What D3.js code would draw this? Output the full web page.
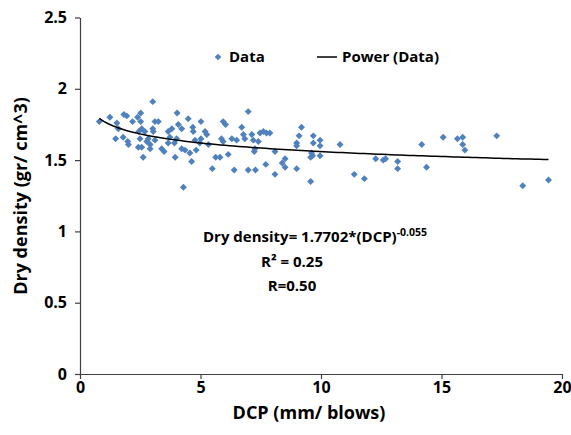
<!DOCTYPE html>
<html>
<head>
<meta charset="utf-8">
<script src="https://cdn.jsdelivr.net/npm/d3@7"></script>
<style>
  body { margin: 0; background: #fff; }
  svg { font-family: "Open Sans", sans-serif; }
</style>
</head>
<body>
<div id="chart"></div>
<script>
// DCP (mm/blows) and dry density (gr/cm^3)
const dcp = [0.80, 1.24, 1.53, 1.59, 1.82, 1.94, 1.48, 1.79, 1.98, 2.01,
  2.18, 2.39, 2.52, 2.52, 2.56, 2.44, 2.49, 2.42, 2.56, 2.62,
  2.69, 2.83, 2.77, 2.91, 2.91, 3.02, 3.02, 3.11, 3.25, 3.04,
  3.11, 3.39, 3.49, 3.66, 3.81, 3.73, 4.01, 3.92, 4.03, 4.08,
  4.22, 3.95, 4.22, 4.36, 4.49, 4.56, 4.63, 4.68, 4.70, 4.77,
  4.29, 3.66, 4.82, 5.02, 5.19, 5.26, 5.02, 4.97, 5.33, 5.63,
  5.81, 5.49, 5.94, 6.04, 5.87, 5.94, 6.15, 6.30, 6.40, 6.50,
  6.71, 6.78, 6.84, 6.98, 6.98, 7.28, 7.13, 7.19, 7.26, 7.23,
  7.40, 7.47, 7.61, 7.74, 7.88, 7.71, 8.09, 8.09, 8.39, 8.51,
  8.51, 8.99, 8.99, 8.99, 9.09, 9.19, 9.57, 9.68, 9.68, 9.61,
  9.65, 9.57, 9.96, 9.96, 9.96, 10.79, 11.38, 11.80, 12.27, 12.58,
  12.68, 13.18, 13.18, 14.18, 14.38, 15.07, 15.66, 15.88, 15.88, 15.97,
  17.29, 18.37, 19.44];
const density = [1.77, 1.80, 1.76, 1.72, 1.82, 1.81, 1.65, 1.66, 1.63, 1.61,
  1.77, 1.80, 1.83, 1.77, 1.72, 1.70, 1.65, 1.59, 1.59, 1.52,
  1.70, 1.65, 1.63, 1.61, 1.58, 1.91, 1.72, 1.77, 1.77, 1.70,
  1.64, 1.58, 1.56, 1.70, 1.72, 1.66, 1.65, 1.62, 1.83, 1.75,
  1.72, 1.52, 1.58, 1.57, 1.79, 1.55, 1.49, 1.73, 1.70, 1.64,
  1.31, 1.62, 1.57, 1.77, 1.70, 1.68, 1.65, 1.62, 1.61, 1.52,
  1.52, 1.44, 1.77, 1.75, 1.65, 1.63, 1.54, 1.65, 1.43, 1.64,
  1.73, 1.68, 1.65, 1.84, 1.43, 1.43, 1.68, 1.64, 1.58, 1.56,
  1.63, 1.69, 1.70, 1.69, 1.69, 1.47, 1.56, 1.40, 1.48, 1.51,
  1.45, 1.62, 1.60, 1.44, 1.67, 1.73, 1.35, 1.67, 1.62, 1.55,
  1.53, 1.52, 1.64, 1.60, 1.53, 1.61, 1.40, 1.37, 1.51, 1.50,
  1.51, 1.49, 1.44, 1.61, 1.45, 1.66, 1.65, 1.66, 1.61, 1.57,
  1.67, 1.32, 1.36];

const xTicks = [0, 5, 10, 15, 20];
const yTicks = [0, 0.5, 1, 1.5, 2, 2.5];

// power trendline shown on the chart: y = a * x^b
const fitA = 1.7702;
const fitB = -0.055;

const data = dcp.map((d, i) => ({ x: d, y: density[i] }));

const W = 571, H = 435;
const svg = d3.select("#chart")
  .append("svg")
  .attr("width", W)
  .attr("height", H);

const x = d3.scaleLinear().domain([0, 20]).range([80, 562]);
const y = d3.scaleLinear().domain([0, 2.5]).range([374, 17.5]);

const axisColor = "#404040";

const xAxis = svg.append("g")
  .attr("transform", "translate(0," + y(0) + ")")
  .call(d3.axisBottom(x).tickValues(xTicks).tickFormat(d => String(d))
    .tickSize(5).tickSizeOuter(0).tickPadding(3));

const yAxis = svg.append("g")
  .attr("transform", "translate(" + x(0) + ",0)")
  .call(d3.axisLeft(y).tickValues(yTicks).tickFormat(d => String(d))
    .tickSize(5).tickSizeOuter(0).tickPadding(8));

[xAxis, yAxis].forEach(a => {
  a.select(".domain").attr("stroke", axisColor).attr("stroke-width", 1.2);
  a.selectAll(".tick line").attr("stroke", axisColor).attr("stroke-width", 1.2);
  a.selectAll(".tick text")
    .attr("fill", "#000")
    .style("font-family", "'Open Sans', sans-serif")
    .style("font-size", "16px")
    .style("font-weight", "bold");
});

// points
const diamond = d3.symbol().type(d3.symbolSquare).size(24);
svg.append("g")
  .selectAll("path")
  .data(data)
  .enter()
    .append("path")
      .attr("d", diamond)
      .attr("transform", d => "translate(" + x(d.x) + "," + y(d.y) + ") rotate(45)")
      .attr("fill", "#4f81bd");

// trendline between smallest and largest DCP
const [lo, hi] = d3.extent(dcp);
const xs = d3.range(0, 101).map(i => lo + (hi - lo) * i / 100);
const line = d3.line()
  .x(d => x(d))
  .y(d => y(fitA * Math.pow(d, fitB)));
svg.append("path")
  .datum(xs)
  .attr("d", line)
  .attr("fill", "none")
  .attr("stroke", "#000")
  .attr("stroke-width", 1.5);

// legend
const legend = svg.append("g").style("font-size", "15px").style("font-weight", "bold");
legend.append("path")
  .attr("d", d3.symbol().type(d3.symbolSquare).size(22))
  .attr("transform", "translate(218,57) rotate(45)")
  .attr("fill", "#4f81bd");
legend.append("text").attr("x", 229).attr("y", 62).text("Data");
legend.append("line")
  .attr("x1", 317).attr("x2", 337).attr("y1", 57).attr("y2", 57)
  .attr("stroke", "#000").attr("stroke-width", 1.5);
legend.append("text").attr("x", 342).attr("y", 62).text("Power (Data)");

// equation block
const eq = svg.append("g").style("font-size", "15px").style("font-weight", "bold");
const eqText = eq.append("text").attr("x", 203).attr("y", 242);
eqText.append("tspan").text("Dry density= " + fitA + "*(DCP)");
eqText.append("tspan")
  .attr("dy", -6)
  .style("font-size", "10.5px")
  .text(fitB);
eq.append("text").attr("x", 292).attr("y", 267).attr("text-anchor", "middle")
  .text("R² = 0.25");
eq.append("text").attr("x", 292).attr("y", 291).attr("text-anchor", "middle")
  .text("R=0.50");

// axis titles
svg.append("text")
  .attr("x", 309).attr("y", 419)
  .attr("text-anchor", "middle")
  .style("font-size", "18px").style("font-weight", "bold")
  .text("DCP (mm/ blows)");

svg.append("text")
  .attr("transform", "translate(27,196) rotate(-90)")
  .attr("text-anchor", "middle")
  .style("font-size", "18px").style("font-weight", "bold")
  .text("Dry density (gr/ cm^3)");
</script>
</body>
</html>
